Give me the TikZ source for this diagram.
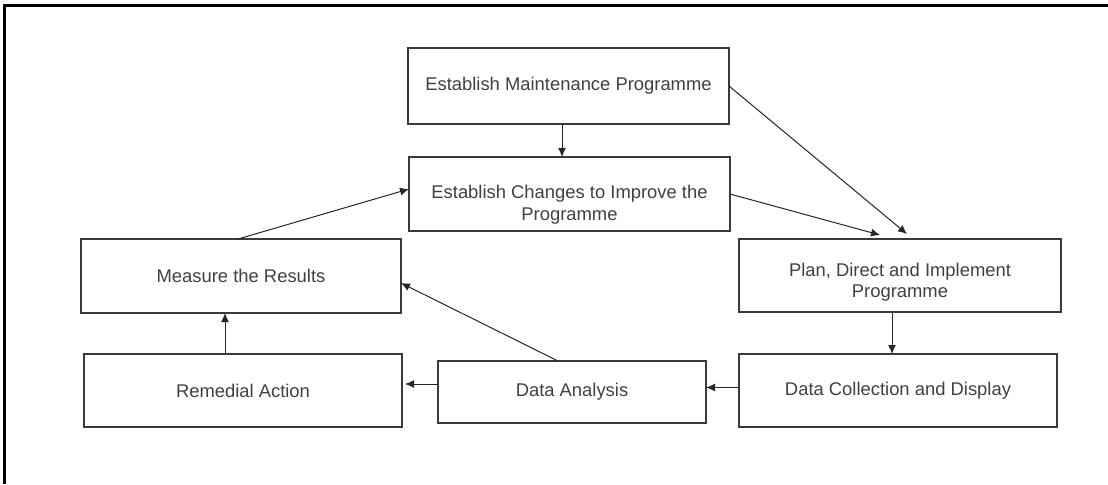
\documentclass[tikz,border=0pt]{standalone}
\usepackage{fontspec}
\setmainfont{Liberation Sans}
\usepackage{tikz}
\usetikzlibrary{positioning,arrows.meta}
\definecolor{boxline}{HTML}{3A3A3A}
\definecolor{boxtext}{HTML}{404040}

\begin{document}
\begin{tikzpicture}[
	x=.5pt, y=-.5pt
	,n/.style={draw=boxline, line width=.7pt, inner sep=0pt, outer sep=0pt,
		text=boxtext, font=\fontsize{9.2}{10.8}\selectfont, align=center}
	,low/.style={text height=#1}
	,arr/.style={draw=black!85, line width=.5pt, -{Latex[length=4.5pt,width=4pt]}}
	,frame/.style={line width=1.5pt}
]
	\useasboundingbox (0,0) rectangle (1108,484);
	\draw[frame] (4,484) -- (4,5) -- (1108,5);

	\node[n, minimum width=160.5pt, minimum height=38pt] (est) at (568.5,86) {Establish Maintenance Programme};
	\node[n, low=28pt, minimum width=160.5pt, minimum height=37pt] (chg) at (569.5,194) {Establish Changes to Improve the\\Programme};
	\node[n, low=24pt, minimum width=161pt, minimum height=36.5pt] (plan) at (900,275.5) {Plan, Direct and Implement\\Programme};
	\node[n, minimum width=159pt, minimum height=36.5pt] (coll) at (898,390.5) {Data Collection and Display};
	\node[n, minimum width=134pt, minimum height=31pt] (ana) at (572,392) {Data Analysis};
	\node[n, minimum width=159pt, minimum height=36.5pt] (rem) at (243,390.5) {Remedial Action};
	\node[n, minimum width=160pt, minimum height=37pt] (meas) at (241,276) {Measure the Results};

	\draw[arr] ([xshift=-3.25pt]est.south) -- ([xshift=-3.25pt]est.south |- chg.north);
	\draw[arr] (est.east) -- ([xshift=3.5pt, yshift=2.5pt]plan.north);
	\draw[arr] (chg.east) -- ([xshift=-10pt, yshift=2pt]plan.north);
	\draw[arr] ([xshift=-4pt]plan.south) -- ([xshift=-4pt]plan.south |- coll.north);
	\draw[arr] ([yshift=1.5pt]coll.west) -- ([yshift=1.5pt]coll.west -| ana.east);
	\draw[arr, shorten >=1.5pt] ([yshift=4pt]ana.west) -- ([yshift=4pt]ana.west -| rem.east);
	\draw[arr] ([xshift=-7pt]ana.north) -- ([yshift=-3.5pt]meas.east);
	\draw[arr] ([xshift=-9pt]rem.north) -- ([xshift=-9pt]rem.north |- meas.south);
	\draw[arr] ([xshift=-1.5pt]meas.north) -- ([yshift=2.5pt]chg.west);
\end{tikzpicture}
\end{document}
